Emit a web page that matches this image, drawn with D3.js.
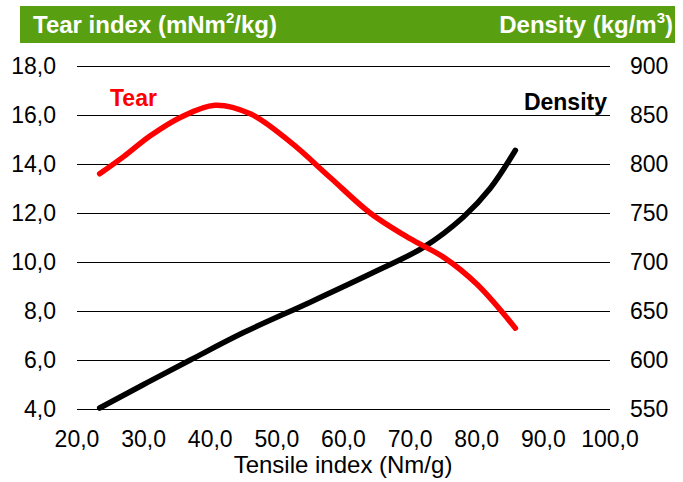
<!DOCTYPE html>
<html>
<head>
<meta charset="utf-8">
<script src="https://cdn.jsdelivr.net/npm/d3@7"></script>
<style>
  body { margin: 0; background: #fff; }
  text { font-family: "Liberation Sans", Arial, sans-serif; }
</style>
</head>
<body>
<svg width="683" height="482"></svg>
<script>
// values
var tearX   = [23.4, 27, 31, 35.5, 40.7, 46, 52, 58, 64, 70, 75, 80, 85.8];
var tear    = [13.6, 14.3, 15.15, 15.9, 16.4, 16.05, 14.9, 13.45, 12.0, 10.95, 10.2, 9.1, 7.3];
var densX   = [23.4, 30, 37, 45, 55, 65, 72, 78, 82, 85.8];
var density = [551, 575, 600, 628, 659, 691, 715, 746, 775, 814];

var xTicks = [20, 30, 40, 50, 60, 70, 80, 90, 100];
var tearTicks = [4, 6, 8, 10, 12, 14, 16, 18];
var densTicks = [550, 600, 650, 700, 750, 800, 850, 900];

(function() {
  var svg = d3.select("svg"),
      plot = {left: 77, right: 610, top: 66, bottom: 409};

  var x = d3.scaleLinear().domain([20, 100]).range([plot.left, plot.right]);
  var yTear = d3.scaleLinear().domain([4, 18]).range([plot.bottom, plot.top]);
  var yDens = d3.scaleLinear().domain([550, 900]).range([plot.bottom, plot.top]);

  var comma = function(d) { return d3.format(".1f")(d).replace(".", ","); };

  // header bar
  svg.append("rect")
      .attr("x", 20).attr("y", 6)
      .attr("width", 655).attr("height", 37)
      .attr("fill", "#58a012");

  var t1 = svg.append("text")
      .attr("x", 33).attr("y", 33)
      .attr("fill", "#fff")
      .style("font-size", "24px").style("font-weight", "bold");
  t1.append("tspan").text("Tear index (mNm");
  t1.append("tspan").attr("dy", -10).style("font-size", "15px").text("2");
  t1.append("tspan").attr("dy", 10).text("/kg)");

  var t2 = svg.append("text")
      .attr("x", 673).attr("y", 33)
      .attr("text-anchor", "end")
      .attr("fill", "#fff")
      .style("font-size", "24px").style("font-weight", "bold");
  t2.append("tspan").text("Density (kg/m");
  t2.append("tspan").attr("dy", -10).style("font-size", "15px").text("3");
  t2.append("tspan").attr("dy", 10).text(")");

  // gridlines
  svg.append("g")
    .selectAll("line")
    .data(tearTicks)
    .enter().append("line")
      .attr("x1", plot.left).attr("x2", plot.right)
      .attr("y1", function(d) { return Math.round(yTear(d)) + 0.5; })
      .attr("y2", function(d) { return Math.round(yTear(d)) + 0.5; })
      .attr("stroke", "#000")
      .attr("stroke-width", 1.2);

  // left axis labels
  svg.append("g")
    .selectAll("text")
    .data(tearTicks)
    .enter().append("text")
      .attr("x", 56)
      .attr("y", function(d) { return yTear(d); })
      .attr("dy", "0.36em")
      .attr("text-anchor", "end")
      .style("font-size", "23px")
      .text(comma);

  // right axis labels
  svg.append("g")
    .selectAll("text")
    .data(densTicks)
    .enter().append("text")
      .attr("x", 630)
      .attr("y", function(d) { return yDens(d); })
      .attr("dy", "0.36em")
      .style("font-size", "23px")
      .text(function(d) { return d; });

  // x axis labels
  svg.append("g")
    .selectAll("text")
    .data(xTicks)
    .enter().append("text")
      .attr("x", function(d) { return x(d); })
      .attr("y", 447)
      .attr("text-anchor", "middle")
      .style("font-size", "23px")
      .text(comma);

  svg.append("text")
      .attr("x", 343).attr("y", 473)
      .attr("text-anchor", "middle")
      .style("font-size", "24px")
      .text("Tensile index (Nm/g)");

  // lines (smoothed like the original)
  var tearLine = d3.line()
      .x(function(d, i) { return x(tearX[i]); })
      .y(function(d) { return yTear(d); })
      .curve(d3.curveCatmullRom.alpha(0.5));

  var densLine = d3.line()
      .x(function(d, i) { return x(densX[i]); })
      .y(function(d) { return yDens(d); })
      .curve(d3.curveCatmullRom.alpha(0.5));

  svg.append("path")
      .datum(density)
      .attr("d", densLine)
      .attr("fill", "none")
      .attr("stroke", "#000")
      .attr("stroke-width", 5.5)
      .attr("stroke-linecap", "round");

  svg.append("path")
      .datum(tear)
      .attr("d", tearLine)
      .attr("fill", "none")
      .attr("stroke", "#ff0000")
      .attr("stroke-width", 5.5)
      .attr("stroke-linecap", "round");

  // series labels
  svg.append("text")
      .attr("x", 110).attr("y", 106)
      .attr("fill", "#ff0000")
      .style("font-size", "23px").style("font-weight", "bold")
      .text("Tear");

  svg.append("text")
      .attr("x", 607).attr("y", 110)
      .attr("text-anchor", "end")
      .style("font-size", "23px").style("font-weight", "bold")
      .text("Density");
})();
</script>
</body>
</html>
